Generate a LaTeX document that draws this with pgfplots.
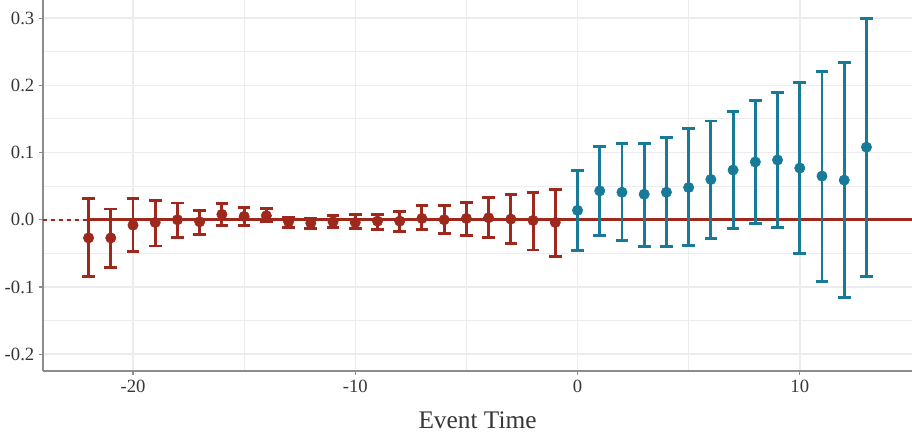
\documentclass[border=0pt]{standalone}
\usepackage{fontspec}
\setmainfont{Liberation Serif}
\usepackage{pgfplots}
\pgfplotsset{compat=1.18}
\usepackage{pgfplotstable}
\definecolor{prec}{RGB}{158,40,28}
\definecolor{postc}{RGB}{22,122,152}
\definecolor{gridc}{RGB}{236,236,236}
\definecolor{axc}{RGB}{140,140,140}
\definecolor{txt}{RGB}{55,55,55}

% event-time estimates: point, lower and upper bound
\pgfplotstableread{
x   y       lo      hi
-22 -0.027  -0.085  0.031
-21 -0.027  -0.071  0.016
-20 -0.008  -0.047  0.031
-19 -0.004  -0.039  0.028
-18  0.000  -0.026  0.025
-17 -0.003  -0.022  0.014
-16  0.008  -0.009  0.024
-15  0.005  -0.008  0.018
-14  0.006  -0.003  0.017
-13 -0.003  -0.011  0.004
-12 -0.005  -0.013  0.002
-11 -0.003  -0.011  0.006
-10 -0.004  -0.013  0.008
-9  -0.002  -0.015  0.008
-8  -0.002  -0.017  0.012
-7   0.002  -0.015  0.021
-6   0.000  -0.020  0.021
-5   0.002  -0.023  0.026
-4   0.003  -0.027  0.033
-3   0.001  -0.035  0.037
-2  -0.001  -0.045  0.041
-1  -0.004  -0.054  0.045
}\predata

\pgfplotstableread{
x   y       lo      hi
0   0.014  -0.046  0.074
1   0.043  -0.024  0.109
2   0.041  -0.031  0.113
3   0.038  -0.040  0.114
4   0.041  -0.040  0.123
5   0.048  -0.038  0.136
6   0.060  -0.028  0.147
7   0.074  -0.013  0.161
8   0.086  -0.005  0.177
9   0.089  -0.012  0.189
10  0.077  -0.050  0.204
11  0.065  -0.092  0.221
12  0.059  -0.116  0.234
13  0.108  -0.084  0.300
}\postdata

\begin{document}
\begin{tikzpicture}
\begin{axis}[
    name=ax,
    scale only axis,
    width=651.75pt, height=278.25pt,
    xmin=-24.05, xmax=15.05,
    ymin=-0.225, ymax=0.327,
    axis x line*=bottom, axis y line*=left,
    axis line style={axc, line width=0.9pt, -},
    xtick={-20,-10,0,10}, xticklabels={-20,-10,0,10},
    minor xtick={-15,-5,5},
    ytick={-0.2,-0.1,0,0.1,0.2,0.3},
    yticklabels={-0.2,-0.1,0.0,0.1,0.2,0.3},
    minor ytick={-0.15,-0.05,0.05,0.15,0.25},
    grid=both,
    major grid style={gridc, line width=1.1pt},
    minor grid style={gridc, line width=0.8pt},
    tick align=outside,
    major tick length=3pt, minor tick length=0pt,
    tick style={axc, line width=0.8pt},
    tick label style={font=\fontsize{14}{16}\selectfont, text=txt},
    xlabel={Event Time},
    xlabel style={font=\fontsize{19}{22}\selectfont, text=txt, yshift=-8pt},
]
    % zero reference line
    \addplot[prec, dashed, line width=1.4pt] coordinates {(-24.05,0) (15.05,0)};
    \addplot[prec, line width=2.1pt] coordinates {(-22,0) (15.05,0)};

    \addplot[prec, only marks, mark=*, mark size=3.9pt,
        mark options={fill=prec, draw=prec},
        error bars/.cd, y dir=both, y explicit,
        error bar style={line width=2.2pt},
        error mark options={line width=2.2pt, mark size=4.75pt, rotate=90}]
        table[x=x, y=y,
              y error plus expr=\thisrow{hi}-\thisrow{y},
              y error minus expr=\thisrow{y}-\thisrow{lo}] {\predata};

    \addplot[postc, only marks, mark=*, mark size=3.9pt,
        mark options={fill=postc, draw=postc},
        error bars/.cd, y dir=both, y explicit,
        error bar style={line width=2.2pt},
        error mark options={line width=2.2pt, mark size=4.75pt, rotate=90}]
        table[x=x, y=y,
              y error plus expr=\thisrow{hi}-\thisrow{y},
              y error minus expr=\thisrow{y}-\thisrow{lo}] {\postdata};
\end{axis}
\pgfresetboundingbox
\useasboundingbox ([xshift=-32.25pt, yshift=-47.25pt]ax.south west) rectangle (ax.north east);
\end{tikzpicture}
\end{document}
